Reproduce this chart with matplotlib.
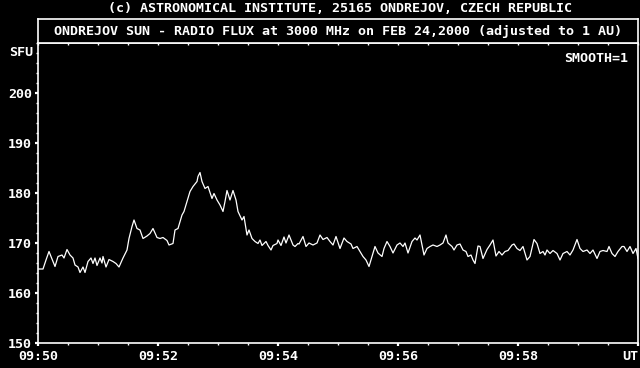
import matplotlib

matplotlib.use("Agg")
import matplotlib.pyplot as plt
from matplotlib.ticker import MultipleLocator

# seconds after 09:50:00 UT, 10 values per row
t_sec = [
    0, 5, 8, 11, 17, 20, 24, 26, 29, 32,
    35, 37, 40, 42, 45, 47, 50, 53, 55, 57,
    59, 62, 64, 65, 68, 71, 75, 78, 81, 85,
    89, 91, 94, 96, 99, 102, 105, 109, 112, 115,
    119, 122, 125, 129, 131, 135, 137, 140, 144, 146,
    149, 152, 155, 159, 160, 162, 164, 167, 170, 174,
    176, 179, 182, 185, 187, 189, 192, 195, 198, 200,
    204, 206, 209, 211, 214, 217, 220, 222, 224, 228,
    230, 233, 235, 239, 240, 243, 246, 248, 251, 255,
    257, 260, 261, 265, 268, 271, 275, 279, 282, 285,
    289, 292, 295, 298, 302, 306, 309, 313, 315, 319,
    322, 325, 328, 331, 334, 337, 340, 344, 346, 349,
    352, 355, 359, 362, 365, 367, 370, 374, 377, 379,
    382, 385, 386, 389, 392, 395, 399, 402, 405, 408,
    410, 414, 416, 419, 422, 425, 428, 430, 433, 435,
    437, 440, 442, 445, 449, 452, 455, 458, 461, 464,
    467, 470, 474, 476, 479, 482, 485, 489, 492, 496,
    499, 502, 505, 507, 509, 512, 515, 519, 522, 525,
    529, 532, 535, 539, 542, 545, 549, 552, 555, 559,
    562, 565, 569, 571, 574, 577, 580, 584, 586, 589,
    592, 595, 598, 600,
]
# solar radio flux, SFU
flux_sfu = [
    164.8, 164.8, 166.6, 168.3, 165.3, 167.3, 167.6, 167.0, 168.7, 167.6,
    167.0, 165.6, 165.2, 164.1, 165.2, 164.1, 166.3, 167.0, 165.9, 167.0,
    165.5, 167.0, 166.0, 167.3, 165.2, 166.7, 166.3, 165.9, 165.2, 167.0,
    168.6, 170.9, 173.3, 174.6, 172.9, 172.6, 170.9, 171.4, 171.9, 172.9,
    171.1, 170.9, 171.1, 170.5, 169.6, 169.9, 172.6, 172.9, 175.6, 176.3,
    178.3, 180.3, 181.3, 182.3, 183.3, 184.1, 182.3, 180.9, 181.3, 178.9,
    179.9, 178.6, 177.6, 176.3, 178.3, 180.5, 178.6, 180.5, 178.6, 176.3,
    174.6, 175.3, 171.6, 172.6, 170.9, 170.3, 169.9, 170.6, 169.5, 170.3,
    169.5, 168.6, 169.5, 169.9, 170.6, 169.5, 171.2, 170.0, 171.6, 169.6,
    169.3, 169.9, 169.8, 171.3, 169.3, 170.0, 169.6, 170.0, 171.6, 170.7,
    171.1, 170.3, 169.6, 171.3, 168.9, 171.0, 170.3, 169.8, 168.9, 169.3,
    168.3, 167.3, 166.6, 165.3, 167.3, 169.3, 168.0, 167.3, 168.9, 170.3,
    169.3, 168.0, 169.6, 170.0, 169.3, 170.0, 168.0, 170.3, 171.0, 170.6,
    171.6, 168.6, 167.6, 168.9, 169.3, 169.6, 169.3, 169.6, 170.0, 171.6,
    170.0, 169.3, 168.6, 169.6, 169.8, 168.6, 168.3, 167.3, 167.6, 166.6,
    165.9, 169.4, 169.3, 166.9, 168.7, 169.6, 170.6, 167.4, 168.3, 167.6,
    168.3, 168.5, 169.6, 169.8, 168.9, 168.5, 169.3, 166.6, 167.3, 170.7,
    169.9, 167.9, 168.3, 167.6, 168.6, 167.9, 168.5, 167.9, 166.6, 167.9,
    168.3, 167.6, 168.6, 170.7, 168.9, 168.3, 168.6, 167.9, 168.6, 166.9,
    168.3, 168.5, 168.3, 169.3, 167.9, 167.3, 168.3, 169.3, 169.3, 168.3,
    169.3, 167.9, 168.9, 166.9,
]
x_tick_sec = [0, 120, 240, 360, 480, 600]
x_tick_labels = ["09:50", "09:52", "09:54", "09:56", "09:58", "UT"]
y_ticks = [150, 160, 170, 180, 190, 200]

FONT = "DejaVu Sans Mono"
FS = 9.6
W, H = 640, 368

fig = plt.figure(figsize=(6.4, 3.68), dpi=100, facecolor="black")

# main plot area: x 38..638 px, y 43..343 px
ax = fig.add_axes([38 / W, (H - 343) / H, 600 / W, 300 / H], facecolor="black")
ax.plot(t_sec, flux_sfu, color="white", lw=0.9)
ax.set_xlim(0, 600)
ax.set_ylim(150, 210)
for side in ax.spines.values():
    side.set_color("white")
    side.set_linewidth(1.2)

ax.set_xticks(x_tick_sec)
ax.set_xticklabels(x_tick_labels)
ax.xaxis.set_minor_locator(MultipleLocator(30))
ax.set_yticks(y_ticks)
ax.yaxis.set_minor_locator(MultipleLocator(2))
ax.tick_params(axis="both", which="major", colors="white", length=2.4, width=1.6,
               direction="out", labelsize=FS)
ax.tick_params(axis="both", which="minor", colors="white", length=1.6, width=1,
               direction="out")
ax.tick_params(axis="x", pad=3)
ax.tick_params(axis="y", pad=1.8)
for lab in ax.get_xticklabels() + ax.get_yticklabels():
    lab.set_family(FONT)
    lab.set_fontweight("bold")
ax.get_xticklabels()[-1].set_ha("right")

# small inward ticks along the top edge
top = ax.secondary_xaxis("top")
top.set_xticks(x_tick_sec)
top.xaxis.set_minor_locator(MultipleLocator(30))
top.tick_params(which="both", direction="in", colors="white", length=1.6,
                width=1, labeltop=False)
top.spines["top"].set_visible(False)

ax.text(-0.008, 208.2, "SFU", transform=ax.get_yaxis_transform(), ha="right",
        va="center", color="white", family=FONT, fontweight="bold", fontsize=FS)
ax.text(0.983, 0.95, "SMOOTH=1", transform=ax.transAxes, ha="right", va="center",
        color="white", family=FONT, fontweight="bold", fontsize=FS)

# boxed title above the plot: y 19..43 px
tbox = fig.add_axes([38 / W, (H - 43) / H, 600 / W, 24 / H], facecolor="black")
tbox.set_xticks([])
tbox.set_yticks([])
for side in tbox.spines.values():
    side.set_color("white")
    side.set_linewidth(1.2)
tbox.text(0.5, 0.5,
          "ONDREJOV SUN - RADIO FLUX at 3000 MHz on FEB 24,2000 (adjusted to 1 AU)",
          transform=tbox.transAxes, ha="center", va="center", color="white",
          family=FONT, fontweight="bold", fontsize=FS)

fig.text(340 / W, 1 - 8 / H,
         "(c) ASTRONOMICAL INSTITUTE, 25165 ONDREJOV, CZECH REPUBLIC",
         ha="center", va="center", color="white", family=FONT,
         fontweight="bold", fontsize=FS)

fig.savefig("out.png", dpi=100, facecolor="black")
